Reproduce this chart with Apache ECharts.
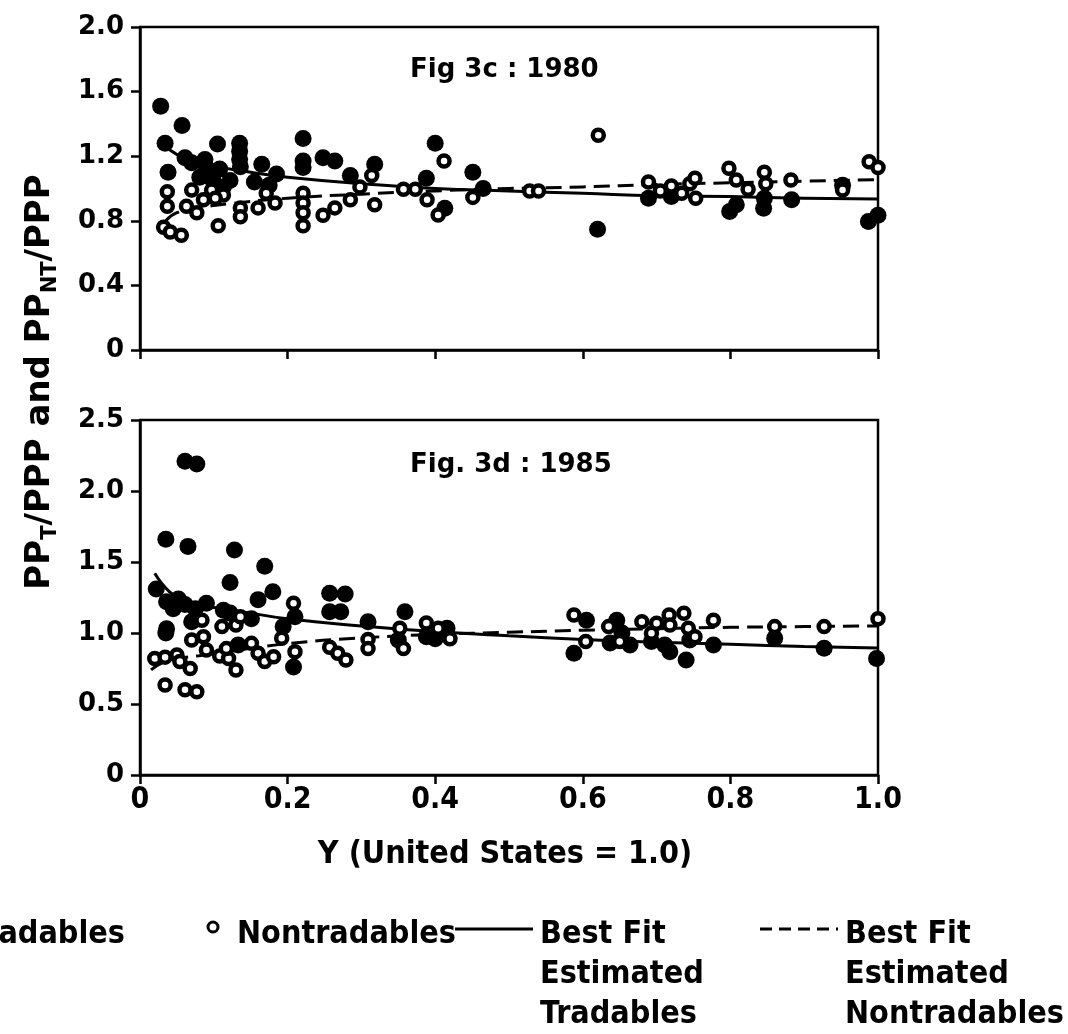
<!DOCTYPE html>
<html lang="en">
<head>
<meta charset="UTF-8">
<title>Fig 3c / 3d</title>
<style>
    *{ margin: 0; padding: 0; }
    body{ background: #fff; }
    #chart{ width: 1068px; height: 1034px; }
</style>
<script src="https://cdn.jsdelivr.net/npm/echarts@6/dist/echarts.min.js"></script>
</head>
<body>
<div id="chart"></div>
<script>
// ---- Fig 3c : 1980 ----
var trad1980 = [
    [0.028,1.51],[0.057,1.39],[0.034,1.28],[0.038,1.10],[0.061,1.19],[0.088,1.18],[0.105,1.275],
    [0.135,1.28],[0.135,1.23],[0.135,1.18],[0.165,1.15],[0.185,1.09],[0.221,1.31],[0.221,1.17],
    [0.221,1.13],[0.248,1.19],[0.264,1.17],[0.285,1.08],[0.318,1.15],[0.081,1.07],[0.099,1.05],
    [0.113,1.01],[0.122,1.05],[0.136,1.135],[0.07,1.16],[0.108,1.12],[0.09,1.13],[0.155,1.04],
    [0.175,1.02],[0.40,1.28],[0.388,1.063],[0.413,0.877],[0.451,1.10],[0.465,1.0],[0.62,0.747],
    [0.689,0.94],[0.72,0.95],[0.799,0.857],[0.808,0.90],[0.846,0.94],[0.845,0.877],[0.883,0.93],
    [0.952,1.02],[0.987,0.795],[1.0,0.835]
];
var nontrad1980 = [
    [0.037,0.98],[0.037,0.89],[0.032,0.76],[0.041,0.73],[0.056,0.71],[0.07,0.99],[0.063,0.89],
    [0.077,0.85],[0.086,0.93],[0.097,0.99],[0.106,0.77],[0.113,0.96],[0.102,0.94],[0.136,0.88],
    [0.136,0.825],[0.16,0.88],[0.171,0.97],[0.183,0.91],[0.221,0.97],[0.221,0.91],[0.221,0.85],
    [0.221,0.77],[0.248,0.835],[0.264,0.88],[0.285,0.93],[0.298,1.01],[0.314,1.08],[0.318,0.90],
    [0.357,0.995],[0.373,0.995],[0.389,0.93],[0.412,1.17],[0.404,0.836],[0.451,0.945],[0.528,0.985],
    [0.54,0.985],[0.621,1.33],[0.689,1.04],[0.705,0.985],[0.72,1.015],[0.734,0.97],[0.745,1.03],
    [0.752,1.063],[0.753,0.94],[0.798,1.125],[0.808,1.053],[0.824,0.995],[0.846,1.10],[0.848,1.03],
    [0.882,1.053],[0.952,0.99],[0.988,1.165],[1.0,1.13]
];
var fitTrad1980 = [
    [0.04,1.24],[0.06,1.19],[0.1,1.14],[0.15,1.10],[0.2,1.07],[0.3,1.03],[0.4,1.0],[0.5,0.985],
    [0.6,0.97],[0.7,0.955],[0.8,0.95],[0.9,0.94],[1.0,0.935]
];
var fitNontrad1980 = [
    [0.035,0.80],[0.05,0.85],[0.08,0.88],[0.12,0.905],[0.2,0.94],[0.3,0.965],[0.4,0.985],[0.5,1.0],
    [0.6,1.01],[0.7,1.025],[0.8,1.035],[0.9,1.045],[1.0,1.055]
];

// ---- Fig 3d : 1985 ----
var trad1985 = [
    [0.061,2.21],[0.077,2.19],[0.035,1.66],[0.065,1.61],[0.128,1.585],[0.169,1.47],[0.122,1.355],
    [0.18,1.29],[0.16,1.235],[0.022,1.31],[0.257,1.28],[0.278,1.275],[0.257,1.15],[0.272,1.15],
    [0.036,1.22],[0.052,1.24],[0.061,1.20],[0.09,1.21],[0.07,1.08],[0.036,1.03],[0.035,1.0],
    [0.045,1.17],[0.075,1.17],[0.113,1.16],[0.122,1.14],[0.151,1.10],[0.194,1.045],[0.21,1.115],
    [0.208,0.76],[0.309,1.08],[0.133,0.915],[0.359,1.15],[0.35,0.95],[0.388,0.974],[0.416,1.033],
    [0.4,0.96],[0.605,1.09],[0.588,0.857],[0.646,1.09],[0.637,0.93],[0.653,1.0],[0.664,0.915],
    [0.693,0.94],[0.711,0.915],[0.718,0.868],[0.74,0.81],[0.745,0.95],[0.777,0.915],[0.86,0.963],
    [0.927,0.892],[0.998,0.82]
];
var nontrad1985 = [
    [0.02,0.82],[0.034,0.83],[0.05,0.845],[0.054,0.80],[0.068,0.75],[0.034,0.634],[0.061,0.60],
    [0.077,0.587],[0.07,0.95],[0.084,1.09],[0.086,0.974],[0.09,0.88],[0.108,0.838],[0.111,1.045],
    [0.12,0.82],[0.117,0.89],[0.13,1.056],[0.13,0.74],[0.136,1.115],[0.151,0.927],[0.16,0.857],
    [0.169,0.80],[0.181,0.833],[0.192,0.963],[0.208,1.21],[0.21,0.868],[0.257,0.90],[0.268,0.857],
    [0.279,0.81],[0.309,0.955],[0.309,0.89],[0.352,1.033],[0.357,0.89],[0.388,1.07],[0.404,1.033],
    [0.42,0.96],[0.588,1.127],[0.604,0.94],[0.635,1.045],[0.65,0.94],[0.68,1.08],[0.70,1.068],
    [0.693,0.998],[0.717,1.127],[0.718,1.056],[0.737,1.139],[0.743,1.033],[0.752,0.974],[0.777,1.09],
    [0.86,1.045],[0.927,1.045],[1.0,1.10]
];
var fitTrad1985 = [
    [0.02,1.42],[0.04,1.29],[0.06,1.23],[0.08,1.20],[0.1,1.18],[0.15,1.14],[0.2,1.10],[0.3,1.05],
    [0.4,1.01],[0.5,0.98],[0.6,0.955],[0.7,0.935],[0.8,0.92],[0.9,0.905],[1.0,0.895]
];
var fitNontrad1985 = [
    [0.015,0.74],[0.03,0.79],[0.05,0.82],[0.08,0.84],[0.12,0.87],[0.2,0.925],[0.3,0.965],[0.4,0.99],
    [0.5,1.005],[0.6,1.02],[0.7,1.03],[0.8,1.04],[0.9,1.045],[1.0,1.05]
];

var xTicks = ['0', '0.2', '0.4', '0.6', '0.8', '1.0'];

var GEO = "'DejaVu Sans', sans-serif";
var COND = "'Liberation Sans Narrow', 'DejaVu Sans Condensed', 'Liberation Sans', sans-serif";

var chart = echarts.init(document.getElementById('chart'));

function xAxis(gi, showLabel){
    return {
        type: 'value', gridIndex: gi, min: 0, max: 1, interval: 0.2,
        axisLine: { lineStyle: { color: '#000', width: 2.5 } },
        axisTick: { show: true, length: 9, lineStyle: { color: '#000', width: 2.5 } },
        splitLine: { show: false },
        axisLabel: {
            show: showLabel, color: '#000', fontFamily: COND, fontWeight: 'bold', fontSize: 30, margin: 10,
            formatter: function(v){ return xTicks[Math.round(v / 0.2)]; }
        }
    };
}
function yAxis(gi, max, step){
    return {
        type: 'value', gridIndex: gi, min: 0, max: max, interval: step,
        axisLine: { lineStyle: { color: '#000', width: 2.5 } },
        axisTick: { show: true, length: 9, lineStyle: { color: '#000', width: 2.5 } },
        splitLine: { show: false },
        axisLabel: {
            color: '#000', fontFamily: GEO, fontWeight: 'bold', fontSize: 26, margin: 16,
            formatter: function(v){ return v === 0 ? '0' : v.toFixed(1); }
        }
    };
}
function filled(name, gi, data){
    return { name: name, type: 'scatter', xAxisIndex: gi, yAxisIndex: gi, data: data, z: 4,
        symbol: 'circle', symbolSize: 17, itemStyle: { color: '#000', opacity: 1 } };
}
function hollow(name, gi, data){
    return { name: name, type: 'scatter', xAxisIndex: gi, yAxisIndex: gi, data: data, z: 5,
        symbol: 'circle', symbolSize: 11,
        itemStyle: { color: '#fff', borderColor: '#000', borderWidth: 4.5, opacity: 1 } };
}
function fit(name, gi, data, dashed){
    return { name: name, type: 'line', xAxisIndex: gi, yAxisIndex: gi, data: data, z: 3,
        showSymbol: false, smooth: true, silent: true,
        lineStyle: { color: '#000', width: 3, type: dashed ? [16, 8] : 'solid' } };
}

var legendFont = { fontFamily: COND, fontWeight: 'bold', fontSize: 32, fill: '#000' };

var option = {
    animation: false,
    backgroundColor: '#fff',
    grid: [
        { left: 140, top: 27, width: 738, height: 323, show: true, borderColor: '#000', borderWidth: 2.5 },
        { left: 140, top: 420, width: 738, height: 355, show: true, borderColor: '#000', borderWidth: 2.5 }
    ],
    title: [
        { text: 'Fig 3c : 1980', left: 405, top: 52,
          textStyle: { fontFamily: GEO, fontWeight: 'bold', fontSize: 26, color: '#000' } },
        { text: 'Fig. 3d : 1985', left: 405, top: 447,
          textStyle: { fontFamily: GEO, fontWeight: 'bold', fontSize: 26, color: '#000' } }
    ],
    xAxis: [xAxis(0, false), xAxis(1, true)],
    yAxis: [yAxis(0, 2.0, 0.4), yAxis(1, 2.5, 0.5)],
    series: [
        fit('Best Fit Estimated Tradables 1980', 0, fitTrad1980, false),
        fit('Best Fit Estimated Nontradables 1980', 0, fitNontrad1980, true),
        filled('Tradables 1980', 0, trad1980),
        hollow('Nontradables 1980', 0, nontrad1980),
        fit('Best Fit Estimated Tradables 1985', 1, fitTrad1985, false),
        fit('Best Fit Estimated Nontradables 1985', 1, fitNontrad1985, true),
        filled('Tradables 1985', 1, trad1985),
        hollow('Nontradables 1985', 1, nontrad1985)
    ],
    graphic: [
        // y axis name with subscripts
        { type: 'text', x: 40, y: 382, rotation: Math.PI / 2,
          style: {
              text: '{n|PP}{s|T}{n|/PPP and PP}{s|NT}{n|/PPP}',
              align: 'center', verticalAlign: 'middle',
              rich: {
                  n: { fontFamily: GEO, fontWeight: 'bold', fontSize: 34, lineHeight: 42, fill: '#000' },
                  s: { fontFamily: GEO, fontWeight: 'bold', fontSize: 21, lineHeight: 21, verticalAlign: 'bottom', fill: '#000' }
              }
          } },
        // x axis name
        { type: 'text', x: 505, y: 855,
          style: { text: 'Y (United States = 1.0)', align: 'center', verticalAlign: 'middle',
                   fontFamily: COND, fontWeight: 'bold', fontSize: 32, fill: '#000' } },
        // legend
        { type: 'circle', shape: { cx: -105, cy: 930, r: 8 }, style: { fill: '#000' } },
        { type: 'text', x: 125, y: 935,
          style: Object.assign({ text: 'Tradables', align: 'right', verticalAlign: 'middle' }, legendFont) },
        { type: 'circle', shape: { cx: 213, cy: 927, r: 5 }, style: { fill: '#fff', stroke: '#000', lineWidth: 3 } },
        { type: 'text', x: 237, y: 935,
          style: Object.assign({ text: 'Nontradables', align: 'left', verticalAlign: 'middle' }, legendFont) },
        { type: 'line', shape: { x1: 455, y1: 929, x2: 533, y2: 929 }, style: { stroke: '#000', lineWidth: 3 } },
        { type: 'text', x: 540, y: 975,
          style: Object.assign({ text: 'Best Fit\nEstimated\nTradables', align: 'left', verticalAlign: 'middle', lineHeight: 40 }, legendFont) },
        { type: 'line', shape: { x1: 760, y1: 929, x2: 838, y2: 929 }, style: { stroke: '#000', lineWidth: 3, lineDash: [12, 7] } },
        { type: 'text', x: 845, y: 975,
          style: Object.assign({ text: 'Best Fit\nEstimated\nNontradables', align: 'left', verticalAlign: 'middle', lineHeight: 40 }, legendFont) }
    ]
};
chart.setOption(option);
</script>
</body>
</html>
